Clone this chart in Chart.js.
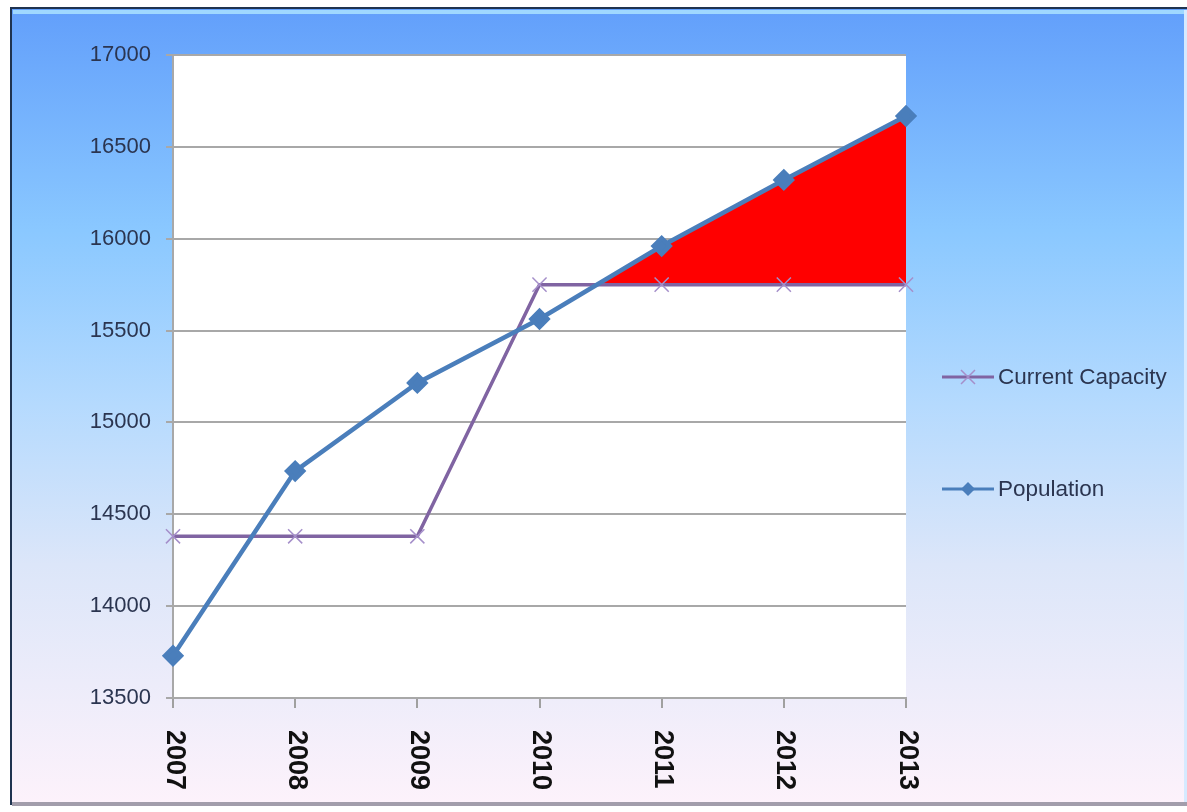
<!DOCTYPE html>
<html>
<head>
<meta charset="utf-8">
<title>Population vs Current Capacity</title>
<script src="https://cdn.jsdelivr.net/npm/chart.js@4.4.1/dist/chart.umd.min.js"></script>
<style>
  html, body { margin: 0; padding: 0; background: #fff; }
  #wrap { width: 1187px; height: 812px; position: relative; }
</style>
</head>
<body>
<div id="wrap"><canvas id="capacityChart"></canvas></div>
<script>
// chart data
const years = ['2007', '2008', '2009', '2010', '2011', '2012', '2013'];
const population = [13730, 14735, 15215, 15563, 15960, 16320, 16668];
const currentCapacity = [14380, 14380, 14380, 15750, 15750, 15750, 15750];
// shortfall shading only drawn over the later years
const shortfall = [null, null, null, 15563, 15960, 16320, 16668];
const yTicks = [13500, 14000, 14500, 15000, 15500, 16000, 16500, 17000];

const popColor = '#4a7ebb';
const capColor = '#8064a2';

// background gradient, frame and white plot area
const backdrop = {
  id: 'backdrop',
  beforeDraw(chart) {
    const ctx = chart.ctx;
    const a = chart.chartArea;
    ctx.save();
    ctx.fillStyle = '#ffffff';
    ctx.fillRect(0, 0, chart.width, chart.height);
    const g = ctx.createLinearGradient(0, 8, 0, 803);
    g.addColorStop(0, '#629ffb');
    g.addColorStop(0.28, '#8ac8ff');
    g.addColorStop(0.5, '#b5dafe');
    g.addColorStop(0.7, '#dce6f9');
    g.addColorStop(1, '#fdf2fb');
    ctx.fillStyle = g;
    ctx.fillRect(11, 8, chart.width - 11, 796);
    // frame
    ctx.fillStyle = '#9fd8ff';
    ctx.fillRect(13, 10, chart.width - 13, 4);
    ctx.fillStyle = '#1f3350';
    ctx.fillRect(10, 7, chart.width - 10, 2);
    ctx.fillRect(10, 7, 2, 798);
    ctx.fillStyle = '#a29dab';
    ctx.fillRect(12, 802, chart.width - 12, 4);
    ctx.fillStyle = '#d6eaff';
    ctx.fillRect(chart.width - 3, 10, 3, 792);
    // plot area
    ctx.fillStyle = '#ffffff';
    ctx.fillRect(a.left, a.top, a.right - a.left, a.bottom - a.top);
    ctx.restore();
  }
};

// rotated year labels and the legend on the right
const extras = {
  id: 'extras',
  afterDraw(chart) {
    const ctx = chart.ctx;
    const xScale = chart.scales.x;
    ctx.save();
    ctx.fillStyle = '#111111';
    ctx.font = 'bold 27px "Liberation Sans", Arial, sans-serif';
    ctx.textAlign = 'left';
    ctx.textBaseline = 'middle';
    years.forEach((yr, i) => {
      const x = xScale.getPixelForValue(i);
      ctx.save();
      ctx.translate(x + 1, 730);
      ctx.rotate(Math.PI / 2);
      ctx.fillText(yr, 0, 0);
      ctx.restore();
    });

    // legend
    const items = [
      { label: 'Current Capacity', color: capColor, marker: 'x', y: 377 },
      { label: 'Population', color: popColor, marker: 'diamond', y: 489 }
    ];
    ctx.font = '22.5px "Liberation Sans", Arial, sans-serif';
    items.forEach(it => {
      ctx.strokeStyle = it.color;
      ctx.lineWidth = 3;
      ctx.beginPath();
      ctx.moveTo(942, it.y);
      ctx.lineTo(994, it.y);
      ctx.stroke();
      if (it.marker === 'x') {
        ctx.strokeStyle = '#a58fca';
        ctx.lineWidth = 1.5;
        ctx.beginPath();
        ctx.moveTo(961, it.y - 7); ctx.lineTo(975, it.y + 7);
        ctx.moveTo(975, it.y - 7); ctx.lineTo(961, it.y + 7);
        ctx.stroke();
      } else {
        ctx.fillStyle = it.color;
        ctx.beginPath();
        ctx.moveTo(968, it.y - 7); ctx.lineTo(975, it.y);
        ctx.lineTo(968, it.y + 7); ctx.lineTo(961, it.y);
        ctx.closePath();
        ctx.fill();
      }
      ctx.fillStyle = '#2b3550';
      ctx.fillText(it.label, 998, it.y + 1);
    });
    ctx.restore();
  }
};

const ctx = document.getElementById('capacityChart').getContext('2d');
new Chart(ctx, {
  type: 'line',
  data: {
    labels: years,
    datasets: [
      {
        label: 'Current Capacity',
        data: currentCapacity,
        borderColor: capColor,
        borderWidth: 3.5,
        pointStyle: 'crossRot',
        pointRadius: 10,
        pointBorderColor: '#a58fca',
        pointBorderWidth: 1.5,
        fill: false,
        tension: 0,
        order: 2
      },
      {
        label: 'Population',
        data: population,
        borderColor: popColor,
        backgroundColor: popColor,
        borderWidth: 4.5,
        pointStyle: 'rectRot',
        pointRadius: 8,
        pointBorderColor: popColor,
        pointBackgroundColor: popColor,
        fill: false,
        tension: 0,
        order: 1
      },
      {
        label: 'Shortfall',
        data: shortfall,
        borderWidth: 0,
        pointRadius: 0,
        borderColor: 'rgba(0,0,0,0)',
        fill: { target: 0, above: '#ff0000', below: 'rgba(0,0,0,0)' },
        tension: 0,
        order: 3
      }
    ]
  },
  options: {
    responsive: true,
    maintainAspectRatio: false,
    animation: false,
    layout: { padding: { top: 55, right: 281, left: 0, bottom: 0 } },
    plugins: {
      legend: { display: false },
      tooltip: { enabled: false }
    },
    scales: {
      x: {
        offset: false,
        afterFit(scale) { scale.height = 114; },
        grid: { drawOnChartArea: false, drawTicks: true, tickLength: 10, color: '#a0a0a0', lineWidth: 2 },
        border: { color: '#a8a8a8', width: 2 },
        ticks: { display: false }
      },
      y: {
        min: 13500,
        max: 17000,
        afterFit(scale) { scale.width = 173; },
        afterBuildTicks(scale) { scale.ticks = yTicks.map(v => ({ value: v })); },
        grid: { color: '#a8a8a8', lineWidth: 2, tickLength: 7 },
        border: { color: '#a8a8a8', width: 2 },
        ticks: {
          color: '#2b3550',
          padding: 15,
          font: { family: '"Liberation Sans", Arial, sans-serif', size: 22 },
          callback: v => String(v)
        }
      }
    }
  },
  plugins: [backdrop, extras]
});
</script>
</body>
</html>
